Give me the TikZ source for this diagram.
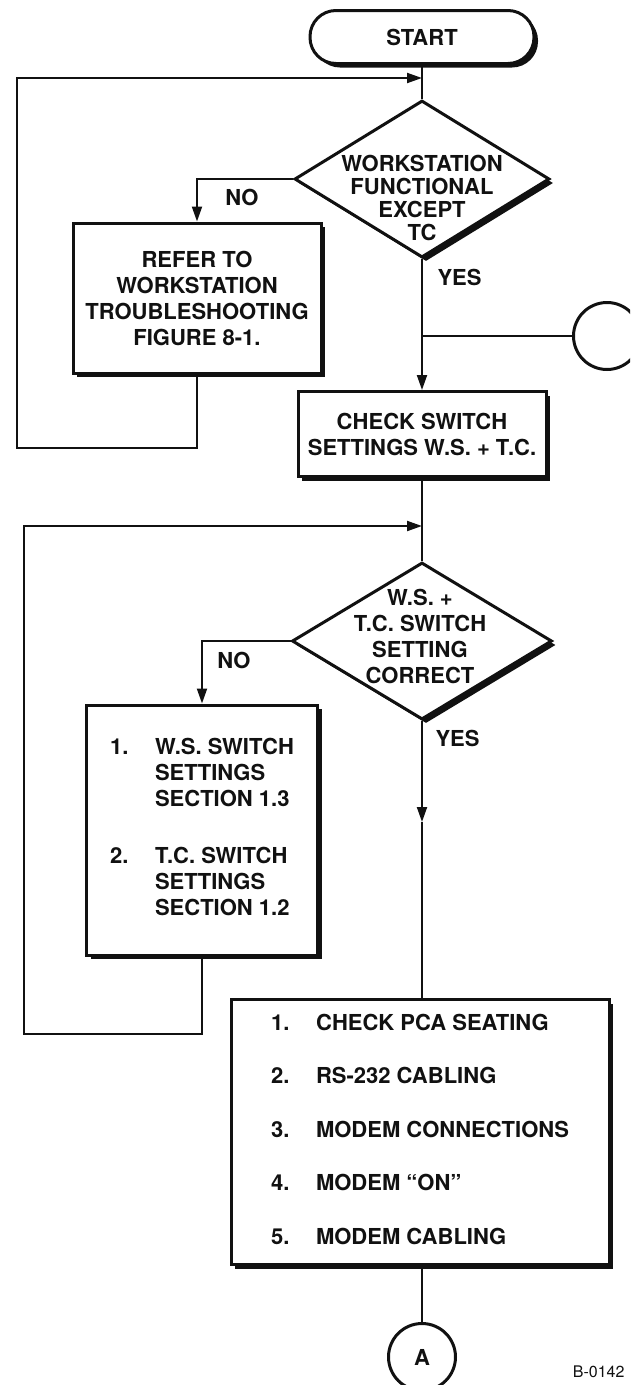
\documentclass[tikz,border=0pt]{standalone}
\usepackage{fontspec}
\setmainfont{TeX Gyre Heros}
\usepackage{xcolor}
\usepackage{tikz}
\usetikzlibrary{arrows.meta,positioning,calc,shapes.geometric,shadows}
\definecolor{fink}{HTML}{111111}

\begin{document}
\begin{tikzpicture}[x=1pt,y=-1pt,
  every node/.style={font=\bfseries\fontsize{22}{26}\selectfont,text=fink},
  wire/.style={draw=fink,line width=2pt},
  arr/.style={wire,-{Triangle[length=15pt,width=10pt]}},
  boxshadow/.style={drop shadow={shadow xshift=4pt,shadow yshift=-4pt,fill=fink,opacity=1}},
  procbox/.style={draw=fink,fill=white,line width=3pt,boxshadow,inner sep=0pt},
  decision/.style={diamond,draw=fink,fill=white,line width=3pt,boxshadow,inner sep=0pt},
  conn/.style={circle,draw=fink,fill=white,line width=3pt,inner sep=0pt,minimum size=67pt}]
  \useasboundingbox (0,0) rectangle (630,1385);
  \clip (0,0) rectangle (630,1385);

  \node[procbox,rounded corners=26pt,minimum width=224pt,minimum height=53pt] (start) at (422,37) {START};
  \node[decision,minimum width=255pt,minimum height=157pt] (d1) at (422,179) {};
  \node[align=center,font=\bfseries\fontsize{22}{23}\selectfont] (d1t) at (422,198) {WORKSTATION\\FUNCTIONAL\\EXCEPT\\TC};
  \node[procbox,minimum width=248pt,minimum height=150pt,align=center] (b1) at (197,298) {REFER TO\\WORKSTATION\\TROUBLESHOOTING\\FIGURE 8-1.};
  \node[procbox,minimum width=248pt,minimum height=85pt,align=center] (b2) at (422,434) {CHECK SWITCH\\SETTINGS W.S. + T.C.};
  \node[conn] (c1) at (607,336) {};
  \node[decision,minimum width=260pt,minimum height=157pt] (d2) at (422,641) {};
  \node[align=center] (d2t) at (420,636) {W.S. +\\T.C. SWITCH\\SETTING\\CORRECT};
  \node[procbox,minimum width=231pt,minimum height=250pt] (b3) at (202,830)
    {\begin{tabular}{@{}p{45pt}@{}l@{}}1.&W.S. SWITCH\\&SETTINGS\\&SECTION 1.3\\[31pt]2.&T.C. SWITCH\\&SETTINGS\\&SECTION 1.2\end{tabular}};
  \node[procbox,minimum width=378pt,minimum height=265pt] (b4) at (420,1132)
    {\begin{tabular}{@{}p{45pt}@{}l@{}}1.&CHECK PCA SEATING\\[27.5pt]2.&RS-232 CABLING\\[27.5pt]3.&MODEM CONNECTIONS\\[27.5pt]4.&MODEM “ON”\\[27.5pt]5.&MODEM CABLING\end{tabular}};
  \node[conn] (ca) at (422,1357) {A};

  \node (no1) at (242,197) {NO};
  \node[anchor=west] (yes1) at (434,277) {YES};
  \node (no2) at (234,660) {NO};
  \node[anchor=west] (yes2) at (432,738) {YES};
  \node[anchor=east,font=\fontsize{16}{18}\selectfont] (code) at (628,1372) {B-0142};

  \coordinate (j1) at (422,78);
  \coordinate (l1) at (17,448);
  \coordinate (j2) at (422,336);
  \coordinate (j3) at (422,526);
  \coordinate (l2) at (24,1034);
  \coordinate (m2) at (422,822);

  \draw[wire] (start.south) -- (d1.north);
  \draw[arr] (d1.west) -| (b1.north);
  \draw[arr] (b1.south) |- (l1) |- (j1);
  \draw[arr] (d1.south) -- (b2.north);
  \draw[wire] (c1.west) -- (j2);
  \draw[wire] (b2.south) -- (d2.north);
  \draw[arr] (d2.west) -| (b3.north);
  \draw[arr] (b3.south) |- (l2) |- (j3);
  \draw[arr] (d2.south) -- (m2);
  \draw[wire] (m2) -- (m2 |- b4.north);
  \draw[wire] (b4.south -| ca) -- (ca.north);
\end{tikzpicture}
\end{document}
